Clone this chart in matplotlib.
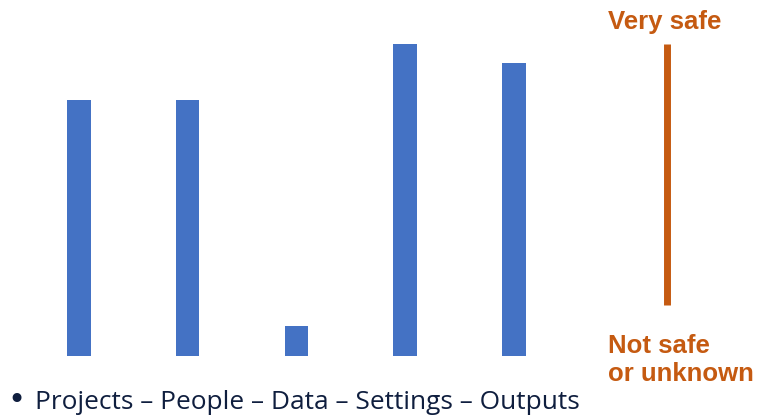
import matplotlib
matplotlib.use("Agg")
import matplotlib.pyplot as plt

# safety score per area (0 = not safe / unknown, 100 = very safe)
categories = ["Projects", "People", "Data", "Settings", "Outputs"]
scores = [82, 82, 9.5, 100, 94]

# vertical scale bar on the right
scale_low = 16.2
scale_high = 100
top_label = "Very safe"
bottom_label = "Not safe\nor unknown"

BLUE = "#4472C4"
ORANGE = "#C55A11"
NAVY = "#0F1E3E"

W, H = 758, 415
fig = plt.figure(figsize=(W / 100, H / 100), dpi=100)

# axes placed so the bars sit at the same spacing as the slide
ax = fig.add_axes([24.6 / W, 59.5 / H, 543.75 / W, 311.5 / H])
x = list(range(len(categories)))
ax.bar(x, scores, width=0.216, color=BLUE)
ax.set_xlim(-0.5, len(categories) - 0.5)
ax.set_ylim(0, 100)
ax.axis("off")

# orange safety scale
scale_x = 5.407
ax.plot([scale_x, scale_x], [scale_low, scale_high], color=ORANGE,
        linewidth=5.0, solid_capstyle="butt", clip_on=False)

fig.text(608 / W, 1 - 29 / H, top_label, color=ORANGE, fontsize=18.5,
         fontweight="bold", family="Liberation Sans", va="baseline", ha="left")
fig.text(608 / W, 1 - 381 / H, bottom_label, color=ORANGE, fontsize=18.5,
         fontweight="bold", family="Liberation Sans", va="baseline", ha="left",
         linespacing=1.2)

# bullet line listing the categories
fig.text(7 / W, 1 - 409 / H, "•", color=NAVY, fontsize=22,
         family="DejaVu Sans", va="baseline", ha="left")
fig.text(35 / W, 1 - 409 / H, " – ".join(categories), color=NAVY,
         fontsize=18.9, family="Open Sans", va="baseline", ha="left")

fig.savefig("out.png", dpi=100)
